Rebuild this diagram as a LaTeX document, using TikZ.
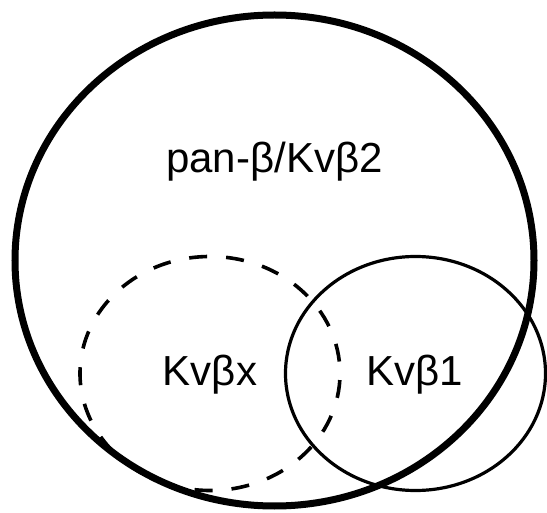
\documentclass[tikz,border=0pt]{standalone}
\usepackage{fontspec}
\setmainfont{Liberation Sans}
\usetikzlibrary{shapes.geometric}
\begin{document}
\begin{tikzpicture}[x=1pt,y=-1pt,
  setring/.style={ellipse,draw=black,inner sep=0pt,fill=none},
  outerset/.style={setring,line width=7pt,minimum width=519pt,minimum height=491pt},
  innerset/.style={setring,line width=3.2pt,minimum width=260pt,minimum height=234pt},
  dashedset/.style={innerset,line width=3.6pt,dash pattern=on 18pt off 19pt,dash phase=25pt},
  setlabel/.style={anchor=base,inner sep=0pt,font=\fontsize{42}{48}\selectfont}]
  \useasboundingbox (0,0) rectangle (547,513);
  % the three sets
  \node[outerset] (pan) at (274.5,260.5) {};
  \node[dashedset] (x) at (210,373.5) {};
  \node[innerset] (one) at (415.5,373.5) {};
  % their names
  \node[setlabel] (panlabel) at (274.5,173) {pan-β/Kvβ2};
  \node[setlabel] (xlabel) at (210,386) {Kvβx};
  \node[setlabel] (onelabel) at (414.5,386) {Kvβ1};
\end{tikzpicture}
\end{document}
